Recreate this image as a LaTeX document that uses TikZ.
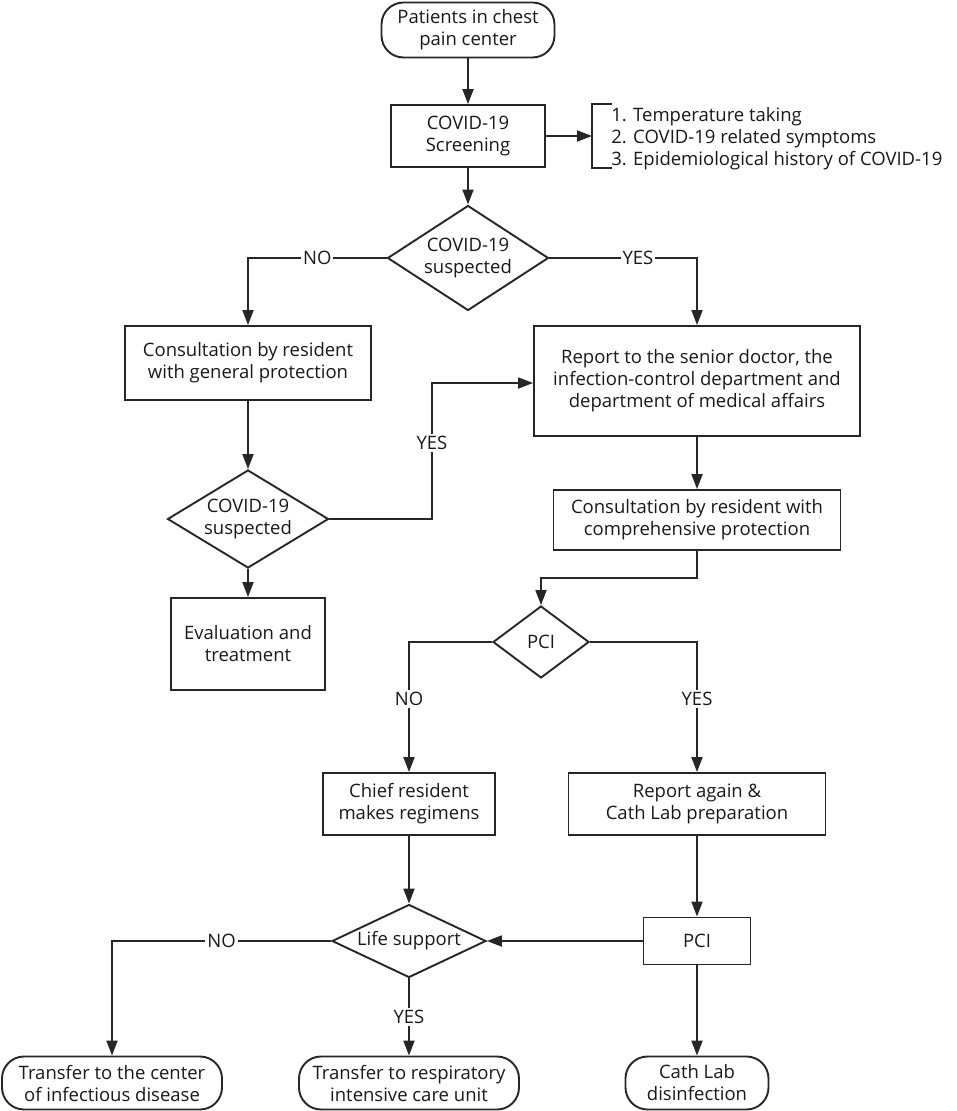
\documentclass[tikz,border=0pt]{standalone}
\usepackage{fontspec}
\setmainfont{Open Sans}
\usetikzlibrary{arrows.meta,shapes.geometric}

\begin{document}
\begin{tikzpicture}[x=1pt, y=-1pt, line width=1.9pt, draw=black!85, text=black!90,
      every node/.append style={font=\fontsize{18.5}{22}\selectfont, align=center},
      box/.style={draw, rectangle, inner sep=0pt},
      term/.style={draw, rectangle, rounded corners=22pt, inner sep=0pt},
      decision/.style={draw, diamond, inner sep=0pt},
      flow/.style={-{Triangle[length=15pt,width=11pt]}},
      lbl/.style={fill=white, inner sep=2pt}]
    \useasboundingbox (0,0) rectangle (957,1111);
    \node (patients) [term, minimum width=173pt, minimum height=55pt] at (468,30) {Patients in chest\\pain center};
    \node (screening) [box, minimum width=154pt, minimum height=62pt] at (468,136) {COVID-19\\Screening};
    \coordinate (bracket) at (592,136);
    \draw (612,104) -- (592,104) -- (592,168) -- (612,168);
    \node (checks) [anchor=west, align=left] at (607,139) {1. Temperature taking\\2. COVID-19 related symptoms\\3. Epidemiological history of COVID-19};
    \node (suspect1) [decision, aspect=1.6, minimum width=161pt, minimum height=105pt] at (468,258) {COVID-19\\suspected};
    \node (general) [box, minimum width=246pt, minimum height=74pt] at (248,363) {Consultation by resident\\with general protection};
    \node (report) [box, minimum width=326pt, minimum height=110pt] at (697,381) {Report to the senior doctor, the\\infection-control department and\\department of medical affairs};
    \node (suspect2) [decision, aspect=1.6, minimum width=161pt, minimum height=98pt] at (248,519) {COVID-19\\suspected};
    \coordinate (loopback) at (432,383);
    \node (evaluation) [box, minimum width=154pt, minimum height=92pt] at (248,644) {Evaluation and\\treatment};
    \node (comprehensive) [box, minimum width=287pt, minimum height=60pt] at (697,520) {Consultation by resident with\\comprehensive protection};
    \node (pci1) [decision, aspect=1.3, minimum width=96pt, minimum height=72pt] at (541,642) {PCI};
    \node (chief) [box, minimum width=172pt, minimum height=62pt] at (409,804) {Chief resident\\makes regimens};
    \node (again) [box, minimum width=257pt, minimum height=62pt] at (697,804) {Report again \&\\Cath Lab preparation};
    \node (life) [decision, aspect=2, minimum width=154pt, minimum height=73pt] at (409,941) {Life support};
    \node (pci2) [box, minimum width=107pt, minimum height=47pt] at (697,941) {PCI};
    \node (infectious) [term, minimum width=220pt, minimum height=53pt] at (112,1083) {Transfer to the center\\of infectious disease};
    \node (respiratory) [term, minimum width=220pt, minimum height=53pt] at (409,1083) {Transfer to respiratory\\intensive care unit};
    \node (cathlab) [term, minimum width=143pt, minimum height=53pt] at (697,1083) {Cath Lab\\disinfection};

    \draw[flow] (patients) -- (screening);
    \draw[flow] (screening) -- (bracket);
    \draw[flow] (screening) -- (suspect1);
    \draw[flow] (suspect1.west) -| node[lbl, pos=0.25] {NO} (general.north);
    \draw[flow] (suspect1.east) -| node[lbl, pos=0.3] {YES} (report.north);
    \draw[flow] (general) -- (suspect2);
    \draw[flow] (suspect2.east) -| node[lbl, pos=0.78] {YES} (loopback) -- (loopback -| report.west);
    \draw[flow] (suspect2) -- (evaluation);
    \draw[flow] (report) -- (comprehensive);
    \draw[flow] (comprehensive.south) -- ++(0,27) -| (pci1.north);
    \draw[flow] (pci1.west) -| node[lbl, pos=0.72] {NO} (chief.north);
    \draw[flow] (pci1.east) -| node[lbl, pos=0.72] {YES} (again.north);
    \draw[flow] (chief) -- (life);
    \draw[flow] (again) -- (pci2);
    \draw[flow] (pci2) -- (life);
    \draw[flow] (life.west) -| node[lbl, pos=0.25] {NO} (infectious.north);
    \draw[flow] (life) -- node[lbl] {YES} (respiratory);
    \draw[flow] (pci2) -- (cathlab);
\end{tikzpicture}
\end{document}
